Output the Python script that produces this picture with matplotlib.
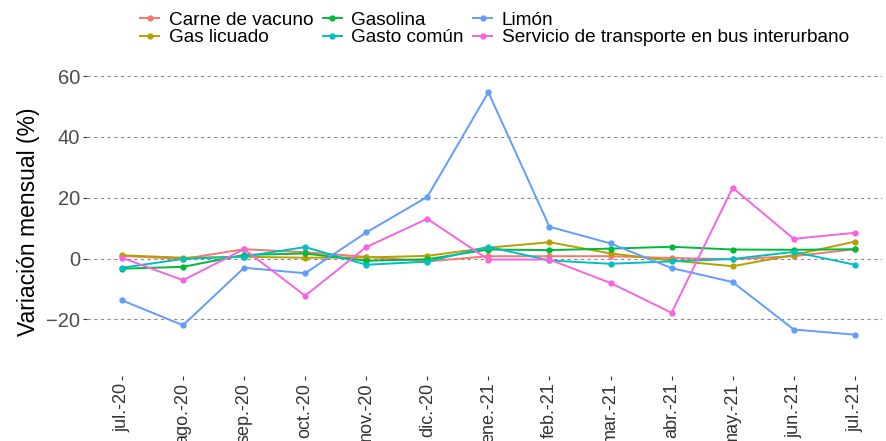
import matplotlib
matplotlib.use("Agg")
import matplotlib.pyplot as plt

plt.rcParams["font.family"] = ["Liberation Sans", "DejaVu Sans"]

meses = ["jul.-20", "ago.-20", "sep.-20", "oct.-20", "nov.-20", "dic.-20", "ene.-21",
         "feb.-21", "mar.-21", "abr.-21", "may.-21", "jun.-21", "jul.-21"]

carne = [0.9, -0.1, 3.1, 2.1, 0.6, -0.9, 0.8, 0.8, 0.8, 0.2, -0.2, 0.8, 3.1]
gas_licuado = [1.1, 0.3, 0.6, 0.3, 0.4, 0.9, 3.6, 5.4, 1.7, -0.6, -2.5, 1.2, 5.6]
gasolina = [-3.3, -2.7, 1.2, 1.7, -0.7, -0.2, 3.0, 2.8, 3.3, 3.9, 3.0, 2.9, 3.1]
gasto_comun = [-3.0, -0.1, 0.7, 3.8, -2.0, -1.0, 3.9, -0.6, -1.7, -0.9, -0.1, 2.2, -2.0]
limon = [-13.7, -21.9, -3.0, -4.8, 8.6, 20.3, 54.7, 10.5, 5.0, -3.1, -7.7, -23.3, -25.0]
bus = [0.3, -7.1, 3.1, -12.2, 3.8, 13.1, -0.3, -0.3, -8.0, -17.8, 23.3, 6.5, 8.5]

series = [
    ("Carne de vacuno", carne, "#F8766D"),
    ("Gas licuado", gas_licuado, "#B79F00"),
    ("Gasolina", gasolina, "#00BA38"),
    ("Gasto común", gasto_comun, "#00BFC4"),
    ("Limón", limon, "#619CFF"),
    ("Servicio de transporte en bus interurbano", bus, "#F564E3"),
]

fig = plt.figure(figsize=(8.87, 4.41), dpi=100)
ax = fig.add_axes([0.098, 0.148, 0.896, 0.700])

x = list(range(len(meses)))
for name, vals, col in series:
    ax.plot(x, vals, color=col, lw=1.4, marker="o", ms=3.5, label=name)

ax.set_xlim(-0.573, 12.44)
ax.set_ylim(-38.5, 63)
ax.set_yticks([-20, 0, 20, 40, 60])
ax.yaxis.grid(True, linestyle=(0, (3, 3)), color="#8a8a8a", lw=0.8)
ax.xaxis.grid(False)
ax.set_axisbelow(True)
for s in ax.spines.values():
    s.set_visible(False)

ax.set_xticks(x)
ax.set_xticklabels(meses, rotation=90, fontsize=13, color="#333333")
ax.tick_params(axis="x", length=3, color="#333333", pad=2)
ax.tick_params(axis="y", length=3, color="#333333", labelsize=14.5, labelcolor="#4d4d4d", pad=2)
ax.set_ylabel("Variación mensual (%)", fontsize=16.5, labelpad=4)

fig.legend(loc="upper center", bbox_to_anchor=(0.5575, 1.012), ncol=3, frameon=False,
           fontsize=13.7, handlelength=1.0, handletextpad=0.5, columnspacing=0.5,
           labelspacing=0.0)

fig.savefig("out.png", dpi=100)
